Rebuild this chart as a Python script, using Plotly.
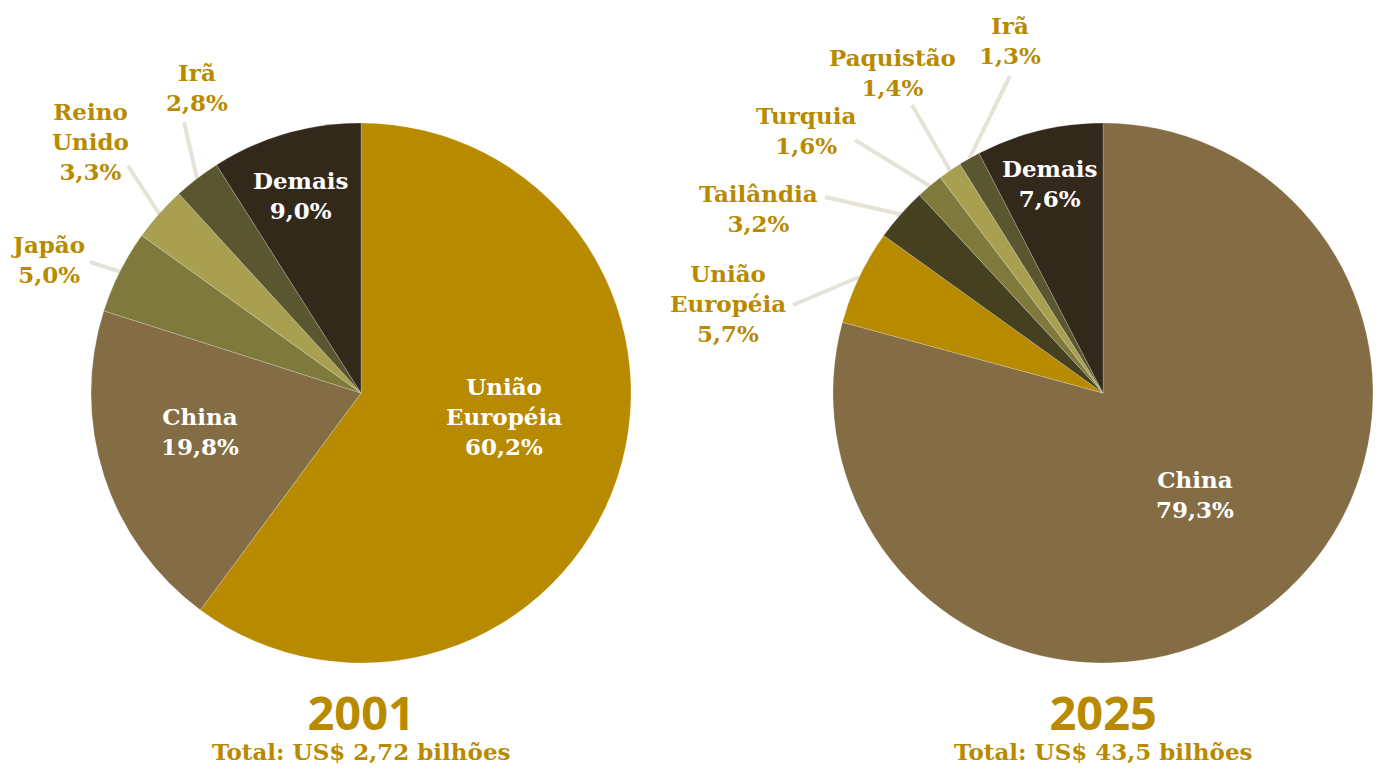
import math
import plotly.graph_objects as go

# The page body has an 8px margin, so the figure is drawn 8px in from the top-left.
OFF = 8
W, H = 1381 - 2 * OFF, 772 - 2 * OFF

# ---- data ----
labels_2001 = ["União Européia", "China", "Japão", "Reino Unido", "Irã", "Demais"]
values_2001 = [60.2, 19.8, 5.0, 3.3, 2.8, 9.0]
labels_2025 = ["China", "União Européia", "Tailândia", "Turquia", "Paquistão", "Irã", "Demais"]
values_2025 = [79.3, 5.7, 3.2, 1.6, 1.4, 1.3, 7.6]
title_2001 = "2001"
total_2001 = "Total: US$ 2,72 bilhões"
title_2025 = "2025"
total_2025 = "Total: US$ 43,5 bilhões"

# ---- style ----
GOLD = "#B88A00"
COLORS = {
    "União Européia": "#B88A00",
    "China": "#846D45",
    "Japão": "#7F7A3B",
    "Turquia": "#7F7A3B",
    "Reino Unido": "#A8A050",
    "Paquistão": "#A8A050",
    "Irã": "#5A5730",
    "Tailândia": "#444020",
    "Demais": "#33291B",
}
LINE_COLOR = "#E5E3D7"
FONT = "DejaVu Serif"
FS = 23

R = 270
centers = {"2001": (361, 393), "2025": (1103, 393)}

def fmt(v):
    return f"{v:.1f}".replace(".", ",") + "%"

def clamp(v):
    return min(1.0, max(0.0, v))

def px2paper(x, y):
    # x, y are page pixels (reference screenshot coordinates)
    return (x - OFF) / W, 1 - (y - OFF) / H

layout_2001 = {
    "União Européia": dict(pos=(504, 416), inside=True, text="União<br>Européia"),
    "China": dict(pos=(200, 431), inside=True, text="China"),
    "Japão": dict(pos=(48, 260), inside=False, line=(90, 262), text="Japão"),
    "Reino Unido": dict(pos=(90, 141), inside=False, line=(128, 166), text="Reino<br>Unido"),
    "Irã": dict(pos=(197, 87), inside=False, line=(184, 122), text="Irã"),
    "Demais": dict(pos=(301, 196), inside=True, text="Demais"),
}
layout_2025 = {
    "China": dict(pos=(1195, 494), inside=True, text="China"),
    "União Européia": dict(pos=(728, 303), inside=False, line=(793, 305), text="União<br>Européia"),
    "Tailândia": dict(pos=(758, 208), inside=False, line=(825, 197), text="Tailândia"),
    "Turquia": dict(pos=(806, 131), inside=False, line=(855, 140), text="Turquia"),
    "Paquistão": dict(pos=(892, 72), inside=False, line=(912, 105), text="Paquistão"),
    "Irã": dict(pos=(1010, 40), inside=False, line=(1010, 76), text="Irã"),
    "Demais": dict(pos=(1050, 183), inside=True, text="Demais"),
}

fig = go.Figure()
shapes, annotations = [], []

def add_pie(key, labels, values, lay, title, total):
    cx, cy = centers[key]
    x0, y1 = px2paper(cx - R, cy - R)
    x1, y0 = px2paper(cx + R, cy + R)
    fig.add_trace(go.Pie(
        labels=labels, values=values, sort=False, direction="clockwise", rotation=0,
        marker=dict(colors=[COLORS[l] for l in labels],
                    line=dict(color="rgba(255,255,255,0.35)", width=0.6)),
        textinfo="none", hovertemplate="%{label}: %{value}%<extra></extra>",
        domain=dict(x=[clamp(x0), clamp(x1)], y=[clamp(y0), clamp(y1)]), showlegend=False,
    ))
    tot = sum(values)
    cum = 0
    for lab, v in zip(labels, values):
        mid = (cum + v / 2) / tot * 2 * math.pi
        cum += v
        L = lay[lab]
        px, py = L["pos"]
        ax, ay = px2paper(px, py)
        text = L["text"] + "<br>" + fmt(v)
        color = "white" if L["inside"] else GOLD
        annotations.append(dict(x=ax, y=ay, xref="paper", yref="paper", text=text,
                                showarrow=False, xanchor="center", yanchor="middle",
                                font=dict(family=FONT, size=FS, color=color, weight="bold")))
        if not L["inside"]:
            ix = cx + R * math.sin(mid)
            iy = cy - R * math.cos(mid)
            ox, oy = L["line"]
            p0 = px2paper(ix, iy)
            p1 = px2paper(ox, oy)
            shapes.append(dict(type="line", xref="paper", yref="paper",
                               x0=p0[0], y0=p0[1], x1=p1[0], y1=p1[1],
                               line=dict(color=LINE_COLOR, width=4), layer="below"))
    tx, _ = px2paper(cx, 0)
    caption = ("<span style='font-family:Noto Sans;font-size:47px'><b>" + title +
               "</b></span><br>" + total)
    annotations.append(dict(x=tx, y=0, xref="paper", yref="paper", text=caption,
                            showarrow=False, xanchor="center", yanchor="bottom", yshift=-3,
                            font=dict(family=FONT, size=23, color=GOLD, weight="bold")))

add_pie("2001", labels_2001, values_2001, layout_2001, title_2001, total_2001)
add_pie("2025", labels_2025, values_2025, layout_2025, title_2025, total_2025)

fig.update_layout(width=W, height=H, margin=dict(l=0, r=0, t=0, b=0),
                  paper_bgcolor="white", plot_bgcolor="white",
                  shapes=shapes, annotations=annotations)
fig.write_html("out.html")
